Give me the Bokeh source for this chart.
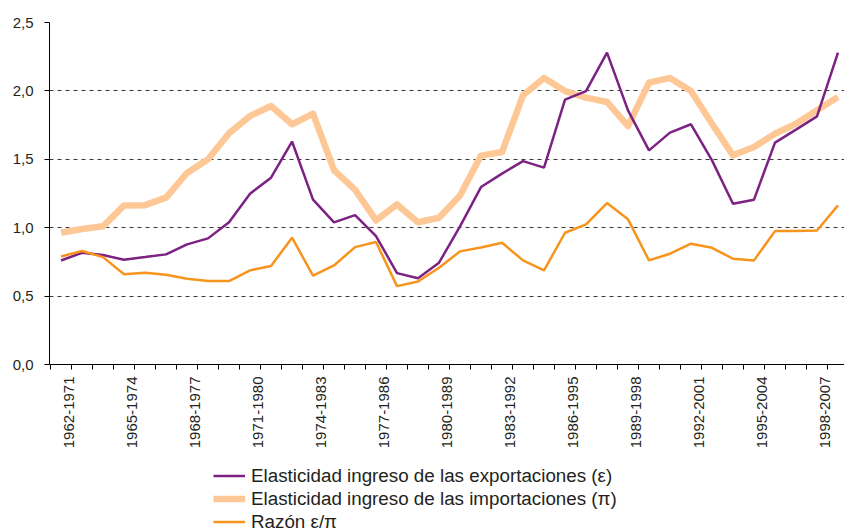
import math
from bokeh.plotting import figure
from bokeh.layouts import column
from bokeh.models import (ColumnDataSource, FixedTicker, Legend, LegendItem, Range1d)
from bokeh.embed import file_html
from bokeh.resources import INLINE

# ---------------- data ----------------
periods = [f"{y}-{y + 9}" for y in range(1962, 2000)]  # 1962-1971 ... 1999-2008

exports_elasticity = [0.76, 0.817, 0.80, 0.766, 0.785, 0.805, 0.878, 0.922, 1.04, 1.249,
                      1.366, 1.63, 1.205, 1.039, 1.092, 0.939, 0.668, 0.631, 0.744, 1.01,
                      1.297, 1.395, 1.487, 1.439, 1.936, 1.999, 2.28, 1.858, 1.565, 1.695,
                      1.756, 1.492, 1.175, 1.205, 1.622, 1.717, 1.814, 2.28]
imports_elasticity = [0.963, 0.99, 1.01, 1.163, 1.165, 1.22, 1.40, 1.50, 1.69, 1.816,
                      1.89, 1.756, 1.834, 1.42, 1.278, 1.053, 1.17, 1.04, 1.073, 1.236,
                      1.527, 1.553, 1.968, 2.095, 1.999, 1.951, 1.919, 1.743, 2.06, 2.095,
                      1.999, 1.76, 1.529, 1.59, 1.687, 1.76, 1.858, 1.955]
ratio = [0.79, 0.83, 0.785, 0.66, 0.67, 0.656, 0.627, 0.61, 0.61, 0.688,
         0.72, 0.927, 0.65, 0.724, 0.858, 0.895, 0.573, 0.607, 0.707, 0.827,
         0.855, 0.89, 0.761, 0.688, 0.963, 1.024, 1.18, 1.061, 0.761, 0.81,
         0.883, 0.853, 0.773, 0.761, 0.975, 0.975, 0.98, 1.163]

y_ticks = [0.0, 0.5, 1.0, 1.5, 2.0, 2.5]
y_tick_labels = ["0,0", "0,5", "1,0", "1,5", "2,0", "2,5"]

label_every = 3
series_names = ["Elasticidad ingreso de las exportaciones (ε)",
                "Elasticidad ingreso de las importaciones (π)",
                "Razón ε/π"]

# ---------------- styles ----------------
FONT = "Liberation Sans"
TEXT = "#231f20"
COL_EXP, W_EXP = "#7B2283", 2.5
COL_IMP, W_IMP = "#FDC896", 6.5
COL_RAT, W_RAT = "#F7941D", 2.5

# ---------------- main chart ----------------
x = list(range(len(periods)))
src = ColumnDataSource(dict(x=x, exp=exports_elasticity, imp=imports_elasticity, r=ratio))

p = figure(frame_width=795, frame_height=342, output_backend="svg", toolbar_location=None,
           x_range=Range1d(-0.55, 37.31), y_range=Range1d(0, 2.5),
           min_border_left=49, min_border_right=0, min_border_top=22, min_border_bottom=100)
p.outline_line_color = None
p.background_fill_color = "white"
p.border_fill_color = "white"

p.line("x", "imp", source=src, line_color=COL_IMP, line_width=W_IMP, line_join="round")
p.line("x", "exp", source=src, line_color=COL_EXP, line_width=W_EXP)
p.line("x", "r", source=src, line_color=COL_RAT, line_width=W_RAT)

# x axis: category boundaries as minor ticks, labels every 3rd period
label_offset = 0.375
lab_pos = [i + label_offset for i in range(0, len(periods), label_every)]
p.xaxis.ticker = FixedTicker(ticks=lab_pos,
                             minor_ticks=[i - 0.5 for i in range(len(periods) + 1)])
p.xaxis.major_label_overrides = {i + label_offset: periods[i]
                                 for i in range(0, len(periods), label_every)}
p.xaxis.major_label_orientation = math.pi / 2
p.xaxis.major_tick_out = 0
p.xaxis.major_tick_in = 0
p.xaxis.minor_tick_out = 5
p.xaxis.minor_tick_in = 0
p.xaxis.minor_tick_line_color = "black"
p.xaxis.axis_line_color = "black"
p.xaxis.major_label_standoff = 7
p.xaxis.major_label_text_font = FONT
p.xaxis.major_label_text_font_size = "15px"
p.xaxis.major_label_text_color = TEXT

# y axis
p.yaxis.ticker = FixedTicker(ticks=y_ticks, minor_ticks=[])
p.yaxis.major_label_overrides = dict(zip(y_ticks, y_tick_labels))
p.yaxis.major_tick_out = 5
p.yaxis.major_tick_in = 0
p.yaxis.major_tick_line_color = "black"
p.yaxis.axis_line_color = "black"
p.yaxis.major_label_standoff = 11
p.yaxis.major_label_text_font = FONT
p.yaxis.major_label_text_font_size = "15px"
p.yaxis.major_label_text_color = TEXT

p.xgrid.visible = False
p.ygrid.grid_line_color = "#3a3a3a"
p.ygrid.grid_line_dash = "4 4"
p.ygrid.grid_line_width = 1

# ---------------- legend strip (series drawn off-range, only legend visible) ----------------
lg = figure(width=844, height=67, output_backend="svg", toolbar_location=None,
            min_border=0, x_range=Range1d(-10, -9), y_range=Range1d(0, 1))
lg.outline_line_color = None
lg.axis.visible = False
lg.grid.visible = False
l_exp = lg.line("x", "exp", source=src, line_color=COL_EXP, line_width=W_EXP)
l_imp = lg.line("x", "imp", source=src, line_color=COL_IMP, line_width=W_IMP)
l_rat = lg.line("x", "r", source=src, line_color=COL_RAT, line_width=W_RAT)

legend = Legend(items=[LegendItem(label=series_names[0], renderers=[l_exp]),
                       LegendItem(label=series_names[1], renderers=[l_imp]),
                       LegendItem(label=series_names[2], renderers=[l_rat])],
                location=(164, -2), orientation="vertical",
                padding=0, margin=0, spacing=0,
                glyph_width=32, glyph_height=23, label_standoff=6,
                label_text_font=FONT, label_text_font_size="18.8px",
                label_text_color=TEXT, border_line_color=None,
                background_fill_alpha=0)
lg.add_layout(legend, "center")

open("out.html", "w").write(file_html(column(p, lg, spacing=0), INLINE))
